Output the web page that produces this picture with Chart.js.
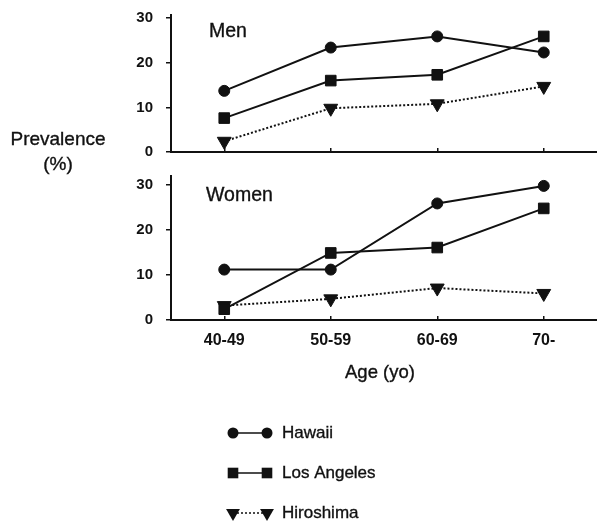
<!DOCTYPE html>
<html><head><meta charset="utf-8">
<script src="https://cdn.jsdelivr.net/npm/chart.js@4"></script>
<style>
body{margin:0;background:#fff;width:597px;height:524px;overflow:hidden;position:relative;font-family:"Liberation Sans",Arial,sans-serif;color:#111}
.box{position:absolute;left:0;width:597px}
.lbl{position:absolute;font-size:19.5px;line-height:22px;white-space:nowrap;-webkit-text-stroke:0.35px #111}
</style></head><body>
<div class="box" style="top:0;height:165px"><canvas id="men"></canvas></div>
<div class="box" style="top:160px;height:364px"><canvas id="women"></canvas></div>
<div class="lbl" style="left:209px;top:19px">Men</div>
<div class="lbl" style="left:206px;top:183px">Women</div>
<div class="lbl" style="left:0px;top:126px;width:116px;text-align:center;line-height:25px;font-size:19px">Prevalence<br>(%)</div>
<div class="lbl" style="left:345px;top:361px;font-size:18.5px">Age (yo)</div>
<script>
const ageGroups = ['40-49', '50-59', '60-69', '70-'];
const seriesNames = ['Hawaii', 'Los Angeles', 'Hiroshima'];
const menHawaii = [13.7, 23.4, 25.9, 22.3];
const menLosAngeles = [7.6, 16.0, 17.3, 25.9];
const menHiroshima = [2.4, 9.8, 10.8, 14.7];
const womenHawaii = [11.2, 11.2, 25.9, 29.8];
const womenLosAngeles = [2.4, 14.9, 16.1, 24.8];
const womenHiroshima = [3.2, 4.7, 7.1, 5.9];
const yTicks = [0, 10, 20, 30];

const INK = '#111';
const FONT = '"Liberation Sans", Arial, sans-serif';

function makeDatasets(h, la, hi) {
  return [
    {label: seriesNames[0], data: h, borderColor: INK, backgroundColor: INK, pointBackgroundColor: INK, pointBorderColor: INK,
     borderWidth: 2, pointStyle: 'circle', pointRadius: 5.5, pointBorderWidth: 1, tension: 0},
    {label: seriesNames[1], data: la, borderColor: INK, backgroundColor: INK, pointBackgroundColor: INK, pointBorderColor: INK,
     borderWidth: 2, pointStyle: 'rect', pointRadius: 7.5, pointBorderWidth: 1, tension: 0},
    {label: seriesNames[2], data: hi, borderColor: INK, backgroundColor: INK, pointBackgroundColor: INK, pointBorderColor: INK,
     borderWidth: 2, borderDash: [2, 2], pointStyle: 'triangle', pointRotation: 180, pointRadius: 8, pointBorderWidth: 1, tension: 0}
  ];
}

const legendPlugin = {
  id: 'lineLegend',
  afterDraw(chart, args, opts) {
    if (!opts.show) return;
    const ctx = chart.ctx;
    const rows = [273, 313, 353];
    chart.data.datasets.forEach((ds, i) => {
      const y = rows[i];
      ctx.save();
      ctx.strokeStyle = ds.borderColor; ctx.lineWidth = 1.5;
      ctx.setLineDash(ds.borderDash || []);
      ctx.beginPath(); ctx.moveTo(233, y); ctx.lineTo(267, y); ctx.stroke();
      ctx.setLineDash([]);
      ctx.fillStyle = ds.pointBackgroundColor; ctx.strokeStyle = ds.pointBorderColor;
      [233, 267].forEach(x => Chart.helpers.drawPoint(ctx, {pointStyle: ds.pointStyle, radius: ds.pointRadius, rotation: ds.pointRotation || 0, borderWidth: 0}, x, y));
      ctx.fillStyle = INK; ctx.strokeStyle = INK; ctx.lineWidth = 0.35;
      ctx.font = '17px ' + FONT; ctx.textBaseline = 'middle';
      ctx.fillText(ds.label, 282, y);
      ctx.strokeText(ds.label, 282, y);
      ctx.restore();
    });
  }
};

function makeChart(id, datasets, yMax, showLabels, xHeight, topPad) {
  return new Chart(document.getElementById(id), {
    type: 'line',
    data: {labels: ageGroups, datasets},
    plugins: [legendPlugin],
    options: {
      responsive: true, maintainAspectRatio: false, animation: false,
      layout: {autoPadding: false, padding: {top: topPad, left: 0, right: 0, bottom: 0}},
      clip: false,
      plugins: {legend: {display: false}, tooltip: {enabled: false}, lineLegend: {show: showLabels}},
      scales: {
        x: {
          offset: true,
          grid: {drawOnChartArea: false, offset: false, tickLength: -4, color: INK, lineWidth: 1.5},
          border: {color: INK, width: 2},
          ticks: {display: showLabels, color: INK, padding: 15, font: {size: 16, family: FONT, weight: 'bold'}},
          afterFit(s) { s.height = xHeight; s.paddingLeft = 0; s.paddingRight = 0; }
        },
        y: {
          min: 0, max: yMax,
          afterBuildTicks(s) { s.ticks = yTicks.map(v => ({value: v})); },
          ticks: {color: INK, padding: 13, font: {size: 15, family: FONT, weight: 'bold'}},
          grid: {drawOnChartArea: false, tickLength: 5, color: INK, lineWidth: 1.5},
          border: {color: INK, width: 2},
          afterFit(s) { s.width = 171; s.paddingTop = 0; s.paddingBottom = 0; }
        }
      }
    }
  });
}

makeChart('men', makeDatasets(menHawaii, menLosAngeles, menHiroshima), 30.7, false, 13, 15);
makeChart('women', makeDatasets(womenHawaii, womenLosAngeles, womenHiroshima), 32, true, 204, 16);
</script>
</body></html>
